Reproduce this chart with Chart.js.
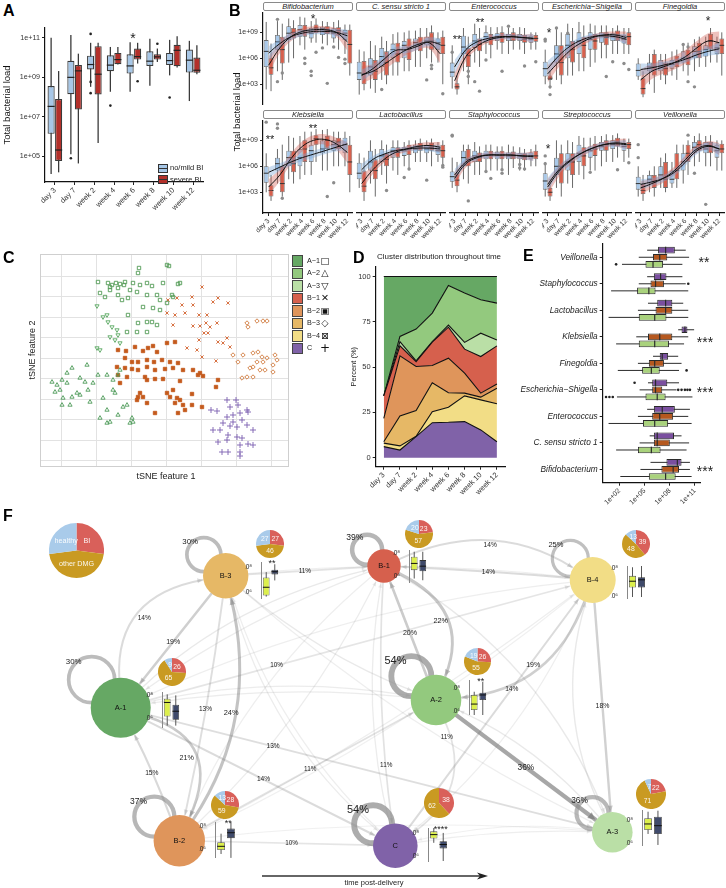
<!DOCTYPE html>
<html>
<head>
<meta charset="utf-8">
<title>Bacterial load and DMG clusters</title>
<script src="https://cdn.jsdelivr.net/npm/chart.js@4.4.1/dist/chart.umd.min.js"></script>
<style>
  html, body { margin: 0; padding: 0; background: #fff; }
  #page { position: relative; width: 726px; height: 888px; overflow: hidden; background: #fff;
          font-family: 'Liberation Sans', Arial, Helvetica, sans-serif; color: #111; }
  #page canvas { position: absolute; }
  .t { position: absolute; white-space: nowrap; line-height: 1; }
  .strip { position: absolute; box-sizing: border-box; border: 1px solid #8a8a8a; border-radius: 2px;
           background: #fff; font-style: italic; font-size: 7.5px; line-height: 7px; text-align: center; color: #222; }
  .sw { position: absolute; box-sizing: border-box; border: 1px solid #333; }
</style>
</head>
<body>
<div id="page"></div>
<script>
// ---------------- data ----------------
const TIMEPOINTS = ['day 3', 'day 7', 'week 2', 'week 4', 'week 6', 'week 8', 'week 10', 'week 12'];

// A: log10 total bacterial load per time point, [min, q1, median, q3, max]
const loadNoMild = [[4.1, 6.14, 7.53, 8.56, 11.0], [5.11, 8.15, 9.0, 9.84, 11.15], [8.52, 9.4, 9.65, 10.1, 10.75],
  [8.27, 9.31, 9.62, 10.12, 10.54], [8.27, 9.19, 9.58, 10.17, 10.78], [8.57, 9.58, 9.82, 10.32, 10.95],
  [9.1, 9.62, 9.85, 10.24, 10.9], [7.8, 9.24, 9.87, 10.41, 10.85]];
const loadSevere = [[4.19, 4.76, 5.32, 7.9, 9.32], [4.64, 7.37, 9.33, 9.62, 10.2], [5.68, 8.13, 9.16, 10.58, 10.75],
  [9.65, 9.67, 9.9, 10.24, 10.54], [9.7, 9.9, 10.05, 10.46, 10.75], [9.78, 9.9, 10.04, 10.17, 10.46],
  [9.5, 9.56, 10.37, 10.65, 11.08], [9.16, 9.23, 9.36, 10.0, 10.63]];
const loadNoMildOut = [[1, 4.9], [2, 11.2], [2, 8.77], [2, 8.2], [3, 7.57], [6, 7.98]];
const loadSevereOut = [[4, 8.8], [5, 10.7]];

// B: per genus, boxes for no/mild and severe BI, smooth fits [no/mild, severe], CI half widths, outliers [time, group, value]
const bifidoNoMild = [[2.4,5.0,6.8,8.1,10.2],[4.5,7.0,7.9,8.7,10.3],[5.5,8.1,8.9,9.7,10.6],[7.5,8.5,9.3,9.85,10.8],[7.8,8.3,8.9,9.5,10.3],[7.7,8.7,9.4,9.65,10.3],[7.8,8.3,8.9,9.46,10.2],[6.5,8.1,8.9,9.27,9.9]];
const bifidoSevere = [[2.2,4.1,4.9,6.0,7.7],[3.5,5.4,7.0,8.5,10.0],[6.0,8.3,9.0,9.5,10.4],[7.0,8.5,9.2,9.85,10.7],[7.8,8.9,9.5,9.9,10.6],[7.5,8.8,9.3,9.7,10.2],[7.0,8.6,9.2,9.6,10.4],[4.0,5.4,7.6,9.3,9.9]];
const bifidoFit = [[6.6,7.7,8.5,8.9,9.1,9.1,9.0,8.6],[5.2,7.2,8.5,9.1,9.3,9.3,9.0,7.9]];
const bifidoBand = [[0.8,0.5,0.4,0.35,0.35,0.35,0.4,0.7],[1.0,0.6,0.5,0.4,0.4,0.4,0.5,1.0]];
const bifidoOut = [[1,0,10.5],[1,0,3.3],[1,1,4.3],[3,1,6.0],[3,1,5.4],[4,0,4.5],[4,0,4.0],[4,1,6.7],[5,0,7.2],[5,1,3.1],[6,0,7.3],[6,1,6.1],[7,0,5.9],[7,0,5.4]];

const csensuNoMild = [[1.8,3.5,4.3,5.6,7.0],[2.5,4.0,5.0,6.0,8.0],[3.5,5.0,6.2,7.2,8.5],[4.0,6.0,7.0,7.7,8.8],[4.5,6.0,7.5,8.0,9.0],[5.0,7.3,7.8,8.3,9.2],[6.0,7.5,8.0,8.5,9.5],[5.5,7.0,7.8,8.3,9.0]];
const csensuSevere = [[2.3,3.0,4.2,5.7,6.8],[2.0,3.5,4.5,5.8,7.5],[3.0,4.0,5.5,6.8,8.0],[4.0,5.5,6.5,7.8,9.0],[4.5,5.8,7.2,8.3,9.2],[5.0,6.8,7.6,8.5,9.5],[5.5,7.0,8.0,9.0,9.8],[3.0,6.5,7.5,8.5,9.2]];
const csensuFit = [[4.0,4.8,5.9,6.9,7.0,7.4,7.9,7.6],[4.1,4.5,5.3,6.2,7.0,7.6,7.8,6.5]];
const csensuBand = [[0.7,0.5,0.5,0.4,0.4,0.4,0.5,0.7],[1.0,0.8,0.7,0.6,0.6,0.6,0.7,1.1]];
const csensuOut = [[2,0,2.4],[6,0,3.5],[6,1,5.2],[6,1,4.8],[7,1,1.9]];

const enteroNoMild = [[2.5,3.8,4.4,5.5,7.5],[4.5,6.5,7.3,8.6,9.5],[5.5,7.2,8.0,8.8,10.0],[6.5,7.8,8.5,9.0,9.8],[7.0,8.0,8.5,8.9,9.6],[6.5,8.0,8.4,8.8,9.5],[7.0,8.0,8.4,8.8,9.6],[7.0,7.8,8.2,8.6,9.0]];
const enteroSevere = [[1.8,2.4,2.7,3.1,4.0],[3.0,5.0,6.3,7.2,8.5],[5.0,6.8,7.6,8.3,9.5],[6.0,7.5,8.2,8.8,9.6],[6.5,7.8,8.4,9.0,9.7],[7.0,8.0,8.6,9.0,9.5],[6.5,7.8,8.2,8.7,9.5],[7.0,7.9,8.3,8.7,9.0]];
const enteroFit = [[5.0,7.0,7.9,8.3,8.5,8.5,8.4,8.3],[3.4,6.2,7.4,8.1,8.4,8.5,8.4,8.3]];
const enteroBand = [[0.8,0.4,0.3,0.3,0.3,0.3,0.3,0.5],[0.9,0.5,0.35,0.3,0.3,0.3,0.35,0.5]];
const enteroOut = [[0,0,6.7],[1,1,4.5],[1,1,3.9],[2,0,3.3],[2,1,2.2],[3,0,5.8],[4,1,4.5],[5,0,9.7],[6,1,5.1],[7,1,5.6]];

const eschNoMild = [[3.0,3.9,4.8,5.6,7.0],[3.5,5.5,6.5,7.5,9.5],[4.0,6.0,7.5,8.8,10.0],[4.5,6.5,8.0,9.0,10.2],[5.0,7.0,8.2,9.0,10.0],[6.0,7.8,8.6,9.0,9.8],[6.5,8.0,8.5,8.9,9.5],[6.5,7.7,8.2,8.7,9.5]];
const eschSevere = [[2.5,3.5,3.7,4.0,4.6],[3.0,4.0,5.5,7.5,9.0],[4.0,5.5,7.0,8.0,9.5],[4.5,6.0,7.5,8.5,9.8],[5.5,7.0,8.0,8.8,9.8],[6.0,7.5,8.4,9.0,9.8],[6.5,8.0,8.7,9.2,9.8],[6.5,7.5,8.5,9.0,9.5]];
const eschFit = [[4.8,6.3,7.4,8.1,8.5,8.6,8.5,8.2],[4.2,5.6,6.9,7.8,8.4,8.7,8.7,8.4]];
const eschBand = [[0.9,0.5,0.4,0.35,0.3,0.3,0.35,0.6],[1.0,0.6,0.45,0.4,0.35,0.35,0.4,0.7]];
const eschOut = [[0,0,8.2],[0,0,8.0],[0,1,2.7],[0,1,1.8],[1,0,9.5],[2,0,8.9],[5,1,3.9],[6,0,5.6],[7,0,5.4],[7,1,4.7]];

const fineNoMild = [[3.5,3.9,4.6,5.4,6.0],[3.0,4.5,5.0,5.5,6.5],[3.5,4.5,5.0,5.8,6.5],[4.0,4.8,5.3,5.8,6.8],[4.5,5.5,6.0,6.8,7.5],[4.5,6.0,6.8,7.4,8.2],[5.0,6.2,7.0,7.5,8.5],[5.5,6.5,7.2,7.8,8.5]];
const fineSevere = [[1.5,1.8,2.5,3.7,4.5],[2.0,4.0,5.0,6.5,7.0],[3.0,4.0,4.8,5.5,6.5],[3.5,5.0,5.5,6.3,7.0],[4.0,5.2,6.0,7.0,7.8],[5.0,6.0,6.8,7.8,8.5],[5.5,7.0,8.0,8.8,9.5],[4.0,6.5,7.5,8.3,9.0]];
const fineFit = [[4.7,4.9,5.2,5.5,5.9,6.4,6.8,7.1],[3.5,4.5,5.0,5.5,6.2,7.2,8.0,7.8]];
const fineBand = [[0.7,0.5,0.4,0.4,0.4,0.4,0.5,0.7],[1.2,0.9,0.8,0.8,0.8,0.8,0.9,1.3]];
const fineOut = [[4,0,7.6],[4,1,7.3],[4,1,3.3],[5,0,2.7]];

const klebNoMild = [[3.0,4.1,5.2,6.0,7.5],[4.0,5.5,6.3,7.0,8.0],[4.5,6.0,7.0,7.8,9.5],[4.5,6.0,7.0,8.0,9.5],[5.0,6.5,7.8,8.5,10.0],[5.5,7.5,8.0,9.0,10.2],[6.0,7.8,8.5,9.0,10.0],[6.0,7.5,8.5,9.3,10.0]];
const klebSevere = [[2.0,2.5,3.2,3.8,5.0],[2.5,3.0,4.0,6.0,8.5],[4.0,5.3,6.3,7.8,9.3],[5.0,6.5,8.0,9.0,10.0],[6.5,8.5,9.2,9.6,10.3],[5.5,8.0,9.0,9.5,10.3],[6.0,8.0,8.8,9.3,10.0],[3.0,5.0,6.5,8.5,9.5]];
const klebFit = [[5.3,5.9,6.5,7.0,7.4,7.8,8.2,8.6],[3.6,5.0,6.9,8.3,9.0,9.1,8.6,7.6]];
const klebBand = [[0.6,0.45,0.4,0.4,0.4,0.4,0.5,0.7],[0.9,0.7,0.6,0.6,0.6,0.6,0.7,1.2]];
const klebOut = [[0,0,11.1],[1,0,10.9],[1,0,10.4],[1,1,2.3],[5,1,2.5],[6,0,4.1]];

const lactoNoMild = [[3.5,4.5,5.2,6.4,7.5],[4.0,5.5,6.5,7.8,9.0],[5.0,6.5,7.2,8.0,9.0],[5.5,7.0,7.8,8.2,9.0],[6.0,7.2,7.8,8.2,8.8],[6.5,7.5,8.0,8.5,9.0],[6.5,7.5,8.0,8.5,9.0],[6.5,7.3,7.8,8.3,8.8]];
const lactoSevere = [[2.0,3.0,3.7,5.5,7.0],[2.5,4.5,5.5,6.8,8.0],[4.0,6.0,6.8,7.5,8.5],[5.0,7.0,7.6,8.2,9.0],[5.5,7.3,8.0,8.5,9.0],[6.5,7.8,8.3,8.7,9.2],[6.0,7.8,8.2,8.7,9.2],[6.0,7.0,7.8,8.5,9.0]];
const lactoFit = [[5.6,6.8,7.4,7.8,8.0,8.1,8.1,8.0],[4.0,5.6,6.8,7.6,8.0,8.3,8.4,8.2]];
const lactoBand = [[0.7,0.4,0.35,0.3,0.3,0.3,0.35,0.5],[0.9,0.5,0.4,0.35,0.35,0.35,0.4,0.6]];
const lactoOut = [[2,1,3.2],[4,0,4.7],[4,1,5.7],[6,0,4.4],[7,1,6.1],[7,1,5.9]];

const staphNoMild = [[3.5,4.2,4.8,5.4,7.0],[4.5,6.0,7.0,7.8,8.5],[5.0,6.5,7.2,7.8,8.8],[5.5,6.8,7.3,7.8,8.5],[5.5,6.8,7.3,7.7,8.3],[5.0,6.8,7.2,7.6,8.5],[5.5,6.8,7.2,7.5,8.2],[6.0,6.8,7.2,7.6,8.0]];
const staphSevere = [[3.0,3.7,4.4,5.2,6.5],[4.0,6.0,6.8,8.0,8.5],[5.0,6.5,7.0,7.6,8.3],[5.5,6.8,7.3,7.8,8.5],[5.5,6.8,7.3,7.8,8.3],[5.8,6.8,7.2,7.7,8.3],[5.5,6.7,7.1,7.5,8.0],[6.0,6.8,7.2,7.8,8.5]];
const staphFit = [[5.0,6.5,7.1,7.3,7.3,7.3,7.2,7.1],[4.6,6.3,7.0,7.3,7.3,7.3,7.2,7.2]];
const staphBand = [[0.7,0.4,0.3,0.3,0.3,0.3,0.35,0.5],[0.8,0.45,0.35,0.3,0.3,0.3,0.35,0.55]];
const staphOut = [[0,0,9.6],[0,0,9.5],[1,1,2.0],[3,0,5.4],[3,1,4.6],[4,1,5.6],[4,1,5.2],[6,0,6.2],[6,0,5.8],[6,1,5.7]];

const strepNoMild = [[2.5,3.3,4.3,5.2,6.5],[3.5,5.0,6.0,7.0,9.0],[4.0,5.5,6.5,7.5,9.0],[5.0,6.5,7.5,8.5,9.5],[5.5,7.0,7.8,8.3,9.3],[6.0,7.8,8.3,8.8,9.5],[6.5,8.0,8.5,9.0,9.6],[6.5,7.8,8.3,8.7,9.2]];
const strepSevere = [[2.0,2.5,3.0,3.5,4.5],[2.5,4.0,6.0,7.5,8.5],[3.5,5.0,6.5,7.5,8.8],[4.5,6.0,7.2,8.2,9.3],[5.5,7.2,8.0,8.6,9.5],[6.5,7.8,8.5,9.0,9.7],[7.0,8.3,8.8,9.3,9.8],[7.0,8.0,8.5,8.8,9.2]];
const strepFit = [[3.9,5.6,6.7,7.5,8.1,8.5,8.6,8.5],[3.6,5.4,6.6,7.5,8.1,8.5,8.7,8.6]];
const strepBand = [[0.8,0.5,0.4,0.35,0.3,0.3,0.35,0.5],[0.9,0.6,0.45,0.4,0.35,0.35,0.4,0.6]];
const strepOut = [[0,0,7.2],[0,0,6.3],[4,0,5.3],[6,1,5.6],[7,1,6.4]];

const veillNoMild = [[2.5,3.3,4.0,4.8,6.0],[3.0,4.0,4.5,5.0,5.5],[3.5,4.5,5.0,6.0,7.0],[3.5,4.0,4.5,5.5,6.5],[4.0,5.5,6.5,7.5,8.5],[6.0,7.5,8.2,8.8,9.5],[6.0,7.5,8.0,8.8,9.5],[5.5,7.0,7.8,8.5,9.0]];
const veillSevere = [[2.0,2.8,3.2,4.0,5.0],[2.5,3.5,4.2,5.0,6.0],[3.0,3.5,4.5,6.5,7.5],[3.5,4.5,5.5,7.5,8.5],[5.0,6.5,7.5,8.5,9.0],[6.5,7.8,8.5,9.0,9.8],[6.0,7.5,8.3,8.8,9.6],[5.5,7.5,8.0,8.6,9.0]];
const veillFit = [[3.9,4.2,4.6,5.3,6.5,7.8,8.3,8.0],[3.5,4.0,4.6,5.5,6.8,8.0,8.4,8.0]];
const veillBand = [[0.6,0.45,0.4,0.4,0.4,0.4,0.45,0.6],[0.8,0.55,0.5,0.45,0.45,0.45,0.5,0.7]];
const veillOut = [[0,0,8.5],[0,0,7.0],[4,1,9.6],[5,0,5.2],[6,0,1.6]];

const GENERA = ['Bifidobacterium', 'C. sensu stricto 1', 'Enterococcus', 'Escherichia−Shigella', 'Finegoldia',
  'Klebsiella', 'Lactobacillus', 'Staphylococcus', 'Streptococcus', 'Veillonella'];

// C: tSNE embedding per cluster [feature 1, feature 2]
const CLUSTERS = ['A-1', 'A-2', 'A-3', 'B-1', 'B-2', 'B-3', 'B-4', 'C'];
const tsneA1 = [[-27,90],[-28,85],[1,93],[3,92],[-68,76],[-58,75],[-54,73],[-50,75],[-46,74],[-42,73],[-56,71],[-48,70],[-41,76],[-33,75],[-26,73],[-19,75],[-14,72],[-3,75],[14,75],[12,74],[-66,65],[-56,68],[-48,63],[-38,60],[-29,66],[-19,63],[-9,63],[-6,58],[6,63],[-23,51],[-13,50],[-6,48],[-38,43],[-28,35],[-19,36],[-14,36],[-29,26],[-39,26],[-19,26],[-9,33],[1,55],[7,61],[-36,68],[-44,58],[-61,61]];
const tsneA2 = [[-114,-24],[-109,-27],[-104,-22],[-106,-32],[-111,-34],[-99,-15],[-94,-10],[-86,-20],[-79,-7],[-81,-24],[-73,-25],[-68,-17],[-59,-17],[-53,-22],[-48,-17],[-46,-12],[-53,-32],[-51,-35],[-94,-39],[-86,-37],[-103,-40],[-104,-47],[-96,-47],[-76,-44],[-63,-40],[-59,-52],[-66,-60],[-59,-65],[-56,-64],[-48,-57],[-43,-49],[-39,-47],[-34,-60],[-33,-64],[-36,-65],[-89,-35],[-78,-32],[-99,-25]];
const tsneA3 = [[-69,52],[-59,43],[-58,36],[-49,28],[-48,23],[-51,18],[-46,15],[-69,10],[-66,8],[-56,21],[-63,41],[-54,31]];
const tsneB1 = [[11,60],[16,53],[26,61],[27,53],[47,56],[52,60],[62,55],[1,45],[9,43],[19,45],[33,43],[41,43],[7,33],[27,32],[34,32],[40,35],[44,31],[38,25],[42,25],[51,35],[33,18],[52,16],[61,20],[57,15],[64,11],[21,10],[31,8],[36,1],[50,-3],[2,58],[36,71]];
const tsneB2 = [[-48,8],[-40,7],[-31,11],[-23,7],[-18,10],[-13,12],[-9,6],[1,15],[9,16],[-41,0],[-34,-4],[-28,-4],[-19,-2],[-12,-4],[-4,-2],[4,-4],[12,-5],[-49,-9],[-41,-10],[-34,-11],[-28,-12],[-19,-9],[-11,-12],[-1,-11],[7,-10],[17,-12],[27,-12],[34,-15],[37,-18],[-48,-17],[-39,-19],[-21,-19],[-19,-22],[-11,-21],[-3,-21],[14,-23],[32,-17],[52,-22],[50,-29],[-26,-35],[-23,-39],[-29,-42],[-19,-45],[-11,-55],[1,-35],[7,-32],[11,-40],[14,-42],[9,-45],[17,-47],[19,-52],[12,-55],[26,-36],[36,-49],[-28,-39],[4,-39],[-46,-25],[26,-47]];
const tsneB3 = [[81,35],[82,31],[91,37],[97,37],[101,37],[67,3],[72,-4],[77,3],[87,5],[92,6],[96,1],[101,0],[97,-4],[91,-4],[87,-9],[84,-10],[94,-12],[99,-12],[109,3],[111,-2],[107,-7],[107,-14],[76,-20],[81,-19],[87,-19]];
const tsneB4 = [];
const tsneC = [[45,-52],[51,-53],[61,-42],[64,-49],[70,-42],[72,-47],[81,-52],[82,-54],[61,-59],[67,-57],[74,-55],[57,-65],[64,-68],[71,-69],[81,-67],[87,-72],[47,-72],[54,-72],[62,-77],[71,-79],[76,-80],[52,-84],[61,-82],[74,-87],[82,-86],[87,-87],[56,-94],[62,-94],[74,-94],[74,-98],[67,-64],[76,-62]];

// D: cluster share (%) per time point
const shareC  = [6.1, 4.2, 11.6, 19.3, 19.5, 19.9, 15.3, 8.8];
const shareB4 = [1.9, 2.3, 0.2, 6.1, 8.3, 14.2, 16.6, 20.9];
const shareB3 = [0.8, 16.5, 14.2, 15.9, 8.0, 1.5, 1.5, 8.6];
const shareB2 = [12.9, 33.2, 24.3, 9.6, 19.1, 11.0, 2.2, 2.4];
const shareB1 = [12.4, 5.5, 2.7, 12.9, 17.1, 13.3, 20.2, 21.0];
const shareA3 = [0.0, 2.3, 0.4, 0.3, 1.2, 3.7, 12.9, 3.3];
const shareA2 = [0.0, 2.9, 17.6, 15.7, 21.8, 27.3, 18.5, 20.3];
const shareA1 = [65.9, 33.1, 29.0, 20.2, 5.0, 9.1, 12.8, 14.7];

// E: log10 load per genus, by cluster group [min, q1, median, q3, max]
const E_GENERA = ['Veillonella', 'Staphylococcus', 'Lactobacillus', 'Klebsiella', 'Finegoldia',
  'Escherichia−Shigella', 'Enterococcus', 'C. sensu stricto 1', 'Bifidobacterium'];
const eGroupC = [[5.3,6.6,7.5,8.6,9.9],[5.3,6.1,6.9,7.6,9.5],[5.4,6.5,7.5,8.3,9.6],[9.0,9.4,9.8,10.1,10.9],[6.0,6.8,7.1,7.8,9.0],[5.4,5.9,6.3,7.7,9.1],[5.3,6.1,7.1,8.6,10.4],[5.6,6.1,6.5,8.5,9.4],[5.7,7.6,8.9,9.4,10.4]];
const eGroupB = [[4.3,6.0,6.8,7.7,10.3],[4.3,5.7,6.3,7.3,9.9],[4.2,6.3,7.5,8.3,10.2],[4.0,5.4,6.8,8.3,10.2],[4.2,5.5,6.2,7.3,9.4],[4.4,5.9,6.3,7.1,8.8],[4.2,5.9,6.8,8.4,10.2],[4.4,6.1,6.5,8.0,10.3],[4.5,7.0,8.4,9.1,10.4]];
const eGroupA = [[2.3,5.1,6.0,7.2,9.5],[1.0,4.1,5.5,6.3,10.2],[0.7,4.3,6.2,7.6,10.2],[1.6,4.3,6.2,7.9,9.7],[1.8,4.7,5.8,6.8,9.1],[1.7,5.1,6.5,7.5,10.7],[0.7,4.8,6.2,7.8,10.6],[1.6,4.2,5.8,6.9,10.0],[2.1,5.5,7.5,8.7,10.6]];
const eOutC = [[5, 3.8]];
const eOutB = [[1, 10.2], [5, 9.0], [5, 9.4], [5, 9.8], [5, 10.1], [5, 10.4]];
const eOutA = [[0, 1.6], [4, 10.0], [5, 0.4], [5, 0.8], [5, 1.2]];

// F: transitions between clusters [from, to, percent]
const selfPct = [30, 54, 36, 39, 37, 30, 25, 54];   // in CLUSTERS order
const TRANSITIONS = [
  ['A-1','B-3',14], ['B-3','A-1',19], ['B-3','B-1',11], ['B-1','B-4',14], ['B-4','B-1',14],
  ['B-1','A-2',22], ['A-2','B-1',20], ['A-1','B-4',10], ['B-4','A-2',19], ['C','B-4',14],
  ['B-4','A-3',18], ['B-2','B-3',24], ['B-3','B-2',13], ['A-1','B-2',21], ['B-2','A-1',15],
  ['A-1','A-3',13], ['A-1','C',14], ['B-2','A-2',11], ['A-2','C',11], ['B-1','C',11],
  ['A-2','A-3',36], ['B-2','C',10],
  ['A-1','A-2',7], ['A-1','B-1',8], ['B-3','B-4',6], ['B-3','A-2',8], ['B-3','C',7], ['B-3','A-3',6],
  ['B-2','B-1',7], ['B-2','B-4',6], ['B-2','A-3',5], ['B-1','A-1',7], ['B-1','A-3',8], ['C','A-3',6],
  ['C','B-1',7], ['A-3','B-4',8], ['A-3','C',5], ['B-4','A-1',6], ['B-4','B-2',5], ['A-2','A-1',7],
  ['B-4','C',6], ['C','B-3',6], ['A-3','A-2',8], ['B-1','B-2',6]
];
// DMG composition (%) per cluster: BI, other DMG, healthy
const PIE_CLUSTERS = ['B-3', 'B-1', 'B-4', 'A-1', 'A-2', 'B-2', 'C', 'A-3'];
const pctBI      = [27, 23, 39, 26, 26, 28, 38, 22];
const pctOther   = [46, 57, 48, 65, 55, 59, 62, 71];
const pctHealthy = [27, 20, 13, 9, 19, 13, 0, 7];
// log10 load per cluster for the two inset groups [min, q1, median, q3, max]
const insetYellow = [[5.66,5.74,6.4,7.18,7.6],[5.8,6.53,7.12,7.7,8.14],[5.96,6.63,7.08,7.46,8.07],[5.31,6.12,7.37,7.7,8.09],[5.63,6.06,6.58,7.37,7.65],[5.63,5.97,6.28,6.63,7.35],[7.18,7.56,7.91,8.2,8.5],[6.77,7.12,7.65,8.15,8.73]];
const insetNavy   = [[6.94,7.42,7.63,7.79,8.22],[5.65,6.44,6.88,7.41,8.14],[5.96,6.63,7.18,7.37,8.16],[5.31,5.83,6.59,7.17,8.0],[5.63,6.93,7.37,7.57,8.52],[5.3,6.97,7.43,7.78,8.34],[5.56,6.68,7.03,7.32,8.06],[5.8,6.77,7.5,8.29,8.82]];
const insetStars  = ['**', '', '', '', '**', '**', '****', ''];

// ---------------- layout & style ----------------
const COL = { 'A-1': '#66a864', 'A-2': '#93c97e', 'A-3': '#badfa6', 'B-1': '#d6604d',
  'B-2': '#df955b', 'B-3': '#e6b866', 'B-4': '#f2dd86', 'C': '#8062a8' };
const BI_COL = '#d9605a', DMG_COL = '#c99a22', HEALTHY_COL = '#a9cbea';
const FACET_X = [263, 356, 449, 542, 635], FACET_TOP = [12, 120], FACET_W = 90, FACET_H = 93;
const STRIP_TOP = [1.7, 110];
// graph layout: centre and radius of every node, CLUSTERS order
const NODE_LAYOUT = [[120.7,707.7,30],[436,700,25.3],[612.3,832.3,20.3],[384,566,16.7],[179.3,840.7,25.7],[225.7,575.7,22.7],[592.7,580,23],[395.3,845.7,22.3]];
const LOOP_R = [23, 20, 16, 15, 20, 17, 18, 19];
const LOOP_ANGLE = -136;
// edge shape: [bend offset, label position along the edge]
const EDGE_SHAPE = [[-37,.5],[0,.5],[0,.5],[-28,.5],[1,.5],[-33,.5],[0,.5],[0,.33],[-31,.5],[0,.59],
  [0,.5],[29,.5],[-3,.5],[-40,.5],[2,.5],[0,.31],[0,.52],[0,.51],[-30,.22],[7,.71],[0,.51],[0,.52],
  [-15,.5],[-20,.5],[-10,.5],[10,.5],[25,.5],[15,.5],[15,.5],[10,.5],[-10,.5],[10,.5],[-30,.5],[-5,.5],
  [-15,.5],[-25,.5],[10,.5],[20,.5],[-15,.5],[10,.5],[-20,.5],[-20,.5],[12,.5],[20,.5]];
const PIE_LAYOUT = [[269.7,544,14],[419.3,534,14],[636,544.3,14],[172.3,671.7,14],[477.3,661,13.5],[225,805,14],[438.7,802.7,15],[650.7,794.3,15]];
// inset frame [left, top, right, bottom] and its log10 range
const INSET_FRAME = [[260.7,561.7,279.3,598.3,5.47,8.4],[409,550,428.3,582.7,5.41,8.29],[626.7,566,646.7,599.3,5.82,8.16],
  [162.3,691.7,181,727.3,5.1,8.3],[469.3,680,488.3,715,5.63,8.67],[215,821.7,237.3,857.3,5.29,8.34],
  [428.3,828.3,449.3,862.7,5.47,8.5],[641.7,810,663.3,846,5.71,8.88]];

Chart.defaults.font.family = "'Liberation Sans', Arial, Helvetica, sans-serif";
Chart.defaults.font.size = 8;
Chart.defaults.color = '#333';
Chart.defaults.animation = false;
Chart.defaults.responsive = false;
Chart.defaults.layout.autoPadding = false;
Chart.defaults.plugins.legend.display = false;
Chart.defaults.plugins.tooltip.enabled = false;

const page = document.getElementById('page');
function addCanvas(x, y, w, h) {
  const c = document.createElement('canvas');
  c.width = Math.round(w); c.height = Math.round(h);
  c.style.left = Math.round(x) + 'px'; c.style.top = Math.round(y) + 'px';
  c.style.width = Math.round(w) + 'px'; c.style.height = Math.round(h) + 'px';
  page.appendChild(c);
  return c;
}
function txt(text, x, y, o = {}) {
  const d = document.createElement('div');
  d.className = 't';
  d.textContent = text;
  d.style.left = x + 'px'; d.style.top = y + 'px';
  d.style.fontSize = (o.size || 8) + 'px';
  if (o.weight) d.style.fontWeight = o.weight;
  if (o.italic) d.style.fontStyle = 'italic';
  if (o.color) d.style.color = o.color;
  if (o.family) d.style.fontFamily = o.family;
  const tx = o.align === 'left' ? '0' : o.align === 'right' ? '-100%' : '-50%';
  d.style.transform = `translate(${tx}, -50%)` + (o.rotate ? ` rotate(${o.rotate}deg)` : '');
  page.appendChild(d);
  return d;
}
const star = (s, x, y, size) => txt(s, x, y + size * 0.22, { size, color: '#222' });

const fixedAxis = size => scale => {
  if (scale.isHorizontal()) scale.height = size; else scale.width = size;
  scale.paddingLeft = 0; scale.paddingRight = 0; scale.paddingTop = 0; scale.paddingBottom = 0;
};
const setTicks = values => scale => { scale.ticks = values.map(v => ({ value: v })); };
const sci = v => '1e+' + String(v).padStart(2, '0');
const tickGrid = () => ({ display: true, drawOnChartArea: false, drawTicks: true, tickLength: 3, color: '#222', offset: false });
const axisBorder = () => ({ display: true, color: '#111', width: 1.2 });

// floating bars = boxes; whiskers, medians and outliers drawn by the plugin from the same scales
function boxSet(stats, outliers, fill, edge, extra) {
  return Object.assign({
    type: 'bar', data: stats.map(s => [s[1], s[3]]), stats, outliers,
    backgroundColor: fill, borderColor: edge, borderWidth: 1, borderSkipped: false,
    whiskerColor: edge, medianColor: edge, outlierColor: '#222', outlierRadius: 1.3, order: 3
  }, extra || {});
}
const boxPlugin = {
  id: 'boxplot',
  beforeDatasetDraw(chart, args) {
    const ds = chart.data.datasets[args.index];
    if (!ds.stats) return;
    const meta = args.meta, vs = meta.vScale, horiz = chart.options.indexAxis === 'y', ctx = chart.ctx;
    ctx.save();
    ctx.strokeStyle = ds.whiskerColor; ctx.lineWidth = ds.whiskerWidth || 1;
    meta.data.forEach((bar, i) => {
      const s = ds.stats[i];
      const p = bar.getProps(['x', 'y'], true);
      const a = vs.getPixelForValue(s[0]), b = vs.getPixelForValue(s[4]);
      ctx.beginPath();
      if (horiz) { ctx.moveTo(a, p.y); ctx.lineTo(b, p.y); } else { ctx.moveTo(p.x, a); ctx.lineTo(p.x, b); }
      ctx.stroke();
    });
    ctx.restore();
  },
  afterDatasetDraw(chart, args) {
    const ds = chart.data.datasets[args.index];
    if (!ds.stats) return;
    const meta = args.meta, vs = meta.vScale, horiz = chart.options.indexAxis === 'y', ctx = chart.ctx;
    ctx.save();
    ctx.strokeStyle = ds.medianColor; ctx.lineWidth = ds.medianWidth || 1.2;
    meta.data.forEach((bar, i) => {
      const p = bar.getProps(['x', 'y', 'width', 'height'], true);
      const m = vs.getPixelForValue(ds.stats[i][2]);
      ctx.beginPath();
      if (horiz) { ctx.moveTo(m, p.y - p.height / 2); ctx.lineTo(m, p.y + p.height / 2); }
      else { ctx.moveTo(p.x - p.width / 2, m); ctx.lineTo(p.x + p.width / 2, m); }
      ctx.stroke();
    });
    ctx.fillStyle = ds.outlierColor;
    (ds.outliers || []).forEach(([i, v]) => {
      const p = meta.data[i].getProps(['x', 'y'], true);
      const c = horiz ? p.y : p.x, val = vs.getPixelForValue(v);
      ctx.beginPath();
      if (horiz) ctx.arc(val, c, ds.outlierRadius, 0, Math.PI * 2); else ctx.arc(c, val, ds.outlierRadius, 0, Math.PI * 2);
      ctx.fill();
    });
    ctx.restore();
  }
};

// ---------------- A ----------------
txt('A', 3, 11, { size: 16, weight: 'bold', align: 'left', color: '#000' });
new Chart(addCanvas(0, 0, 230, 250), {
  type: 'bar',
  data: { labels: TIMEPOINTS, datasets: [
    boxSet(loadNoMild, loadNoMildOut, '#a7c7e7', '#3a3a3a', { categoryPercentage: 0.76, barPercentage: 0.95, borderWidth: 1.2, whiskerWidth: 1.3, medianColor: '#222' }),
    boxSet(loadSevere, loadSevereOut, '#b3302a', '#3a3a3a', { categoryPercentage: 0.76, barPercentage: 0.95, borderWidth: 1.2, whiskerWidth: 1.3, medianColor: '#222' })
  ] },
  options: {
    layout: { padding: { top: 28, right: 27 } },
    scales: {
      x: { ticks: { autoSkip: false, minRotation: 45, maxRotation: 45, font: { size: 7.5 }, padding: 1 },
           grid: tickGrid(), border: axisBorder(), afterFit: fixedAxis(68) },
      y: { min: 3.7, max: 11.5, afterBuildTicks: setTicks([5, 7, 9, 11]), ticks: { callback: sci, font: { size: 7.2 }, padding: 2 },
           grid: tickGrid(), border: axisBorder(), afterFit: fixedAxis(45),
           title: { display: true, text: 'Total bacterial load', font: { size: 9.5 }, color: '#111', padding: { top: 2, bottom: 0 } } }
    }
  },
  plugins: [boxPlugin]
});
star('*', 133, 35, 14);
[['no/mild BI', '#a7c7e7', 168], ['severe BI', '#b3302a', 179.5]].forEach(([name, fill, y]) => {
  const sw = document.createElement('div');
  sw.className = 'sw';
  sw.style.cssText = `left:158px;top:${y - 4.5}px;width:9.5px;height:9px;background:${fill};`;
  const mid = document.createElement('div');
  mid.style.cssText = 'position:absolute;left:0;right:0;top:3px;height:1px;background:#333;';
  sw.appendChild(mid);
  page.appendChild(sw);
  txt(name, 170, y, { size: 7.5, align: 'left', color: '#222' });
});

// ---------------- B ----------------
txt('B', 229, 11, { size: 16, weight: 'bold', align: 'left', color: '#000' });
txt('Total bacterial load', 237, 112, { size: 9.5, rotate: -90, color: '#111' });
const FACETS = [
  [bifidoNoMild, bifidoSevere, bifidoFit, bifidoBand, bifidoOut],
  [csensuNoMild, csensuSevere, csensuFit, csensuBand, csensuOut],
  [enteroNoMild, enteroSevere, enteroFit, enteroBand, enteroOut],
  [eschNoMild, eschSevere, eschFit, eschBand, eschOut],
  [fineNoMild, fineSevere, fineFit, fineBand, fineOut],
  [klebNoMild, klebSevere, klebFit, klebBand, klebOut],
  [lactoNoMild, lactoSevere, lactoFit, lactoBand, lactoOut],
  [staphNoMild, staphSevere, staphFit, staphBand, staphOut],
  [strepNoMild, strepSevere, strepFit, strepBand, strepOut],
  [veillNoMild, veillSevere, veillFit, veillBand, veillOut]
];
function facetChart(k) {
  const col = k % 5, row = Math.floor(k / 5);
  const [boxBlue, boxRed, fit, band, outl] = FACETS[k];
  const yw = col === 0 ? 30 : 0, xh = row === 1 ? 34 : 0;
  const strip = document.createElement('div');
  strip.className = 'strip';
  strip.style.cssText = `left:${FACET_X[col]}px;top:${STRIP_TOP[row]}px;width:${FACET_W}px;height:9px;`;
  strip.textContent = GENERA[k];
  page.appendChild(strip);
  const outOf = g => outl.filter(o => o[1] === g).map(o => [o[0], o[2]]);
  const boxOpts = { categoryPercentage: 0.86, barPercentage: 1, borderWidth: 0.8, whiskerWidth: 1, medianWidth: 1,
    outlierColor: '#8c8c8c', outlierRadius: 1.7, medianColor: '#333' };
  const line = (data, extra) => Object.assign({ type: 'line', data, pointRadius: 0, tension: 0.4, borderWidth: 0, fill: false, order: 2 }, extra);
  const band0 = fit[0].map((v, i) => [v - band[0][i], v + band[0][i]]);
  const band1 = fit[1].map((v, i) => [v - band[1][i], v + band[1][i]]);
  new Chart(addCanvas(FACET_X[col] - yw, FACET_TOP[row], FACET_W + yw, FACET_H + xh), {
    type: 'bar',
    data: { labels: TIMEPOINTS, datasets: [
      boxSet(boxBlue, outOf(0), '#a9c8e8', '#6a6a6a', boxOpts),
      boxSet(boxRed, outOf(1), '#d6604d', '#6a6a6a', boxOpts),
      line(band0.map(b => b[0])),
      line(band0.map(b => b[1]), { fill: '-1', backgroundColor: 'rgba(120,165,215,0.38)' }),
      line(band1.map(b => b[0])),
      line(band1.map(b => b[1]), { fill: '-1', backgroundColor: 'rgba(210,95,85,0.38)' }),
      line(fit[0], { borderColor: '#111', borderWidth: 1, order: 0 }),
      line(fit[1], { borderColor: '#111', borderWidth: 1, order: 0 })
    ] },
    options: {
      scales: {
        x: { display: row === 1, ticks: { autoSkip: false, minRotation: 45, maxRotation: 45, font: { size: 6.8 }, padding: 1 },
             grid: tickGrid(), border: axisBorder(), afterFit: fixedAxis(xh) },
        y: { display: col === 0, min: 0.6, max: 11.35, afterBuildTicks: setTicks([3, 6, 9]),
             ticks: { callback: sci, font: { size: 7 }, padding: 2 }, grid: tickGrid(), border: axisBorder(), afterFit: fixedAxis(yw) }
      }
    },
    plugins: [boxPlugin]
  });
}
for (let k = 0; k < 10; k++) facetChart(k);
star('*', 313, 16, 12);
star('**', 457, 37, 11); star('**', 480, 20, 11);
star('*', 549, 30, 12); star('*', 708, 18, 12);
star('**', 270, 137, 11); star('**', 313, 126, 11);
star('*', 548, 146, 12);

// ---------------- C ----------------
txt('C', 3, 258, { size: 16, weight: 'bold', align: 'left', color: '#000' });
const TSNE = [tsneA1, tsneA2, tsneA3, tsneB1, tsneB2, tsneB3, tsneB4, tsneC];
const SCATTER_STYLE = [
  { pointStyle: 'rect', color: '#519a55', open: true, r: 2.4 },
  { pointStyle: 'triangle', color: '#4f9c5a', open: true, r: 2.4 },
  { pointStyle: 'triangle', rotation: 180, color: '#5aa862', open: true, r: 2.4 },
  { pointStyle: 'crossRot', color: '#d2622e', r: 2.3 },
  { pointStyle: 'rect', color: '#c45a1c', open: false, r: 2.4 },
  { pointStyle: 'rectRot', color: '#d0783a', open: true, r: 2.2 },
  { pointStyle: 'rect', color: '#e0b84a', open: true, r: 2.4 },
  { pointStyle: 'cross', color: '#7c5fb0', r: 3 }
];
const cCanvas = addCanvas(41, 255, 247, 211);
cCanvas.style.outline = '1px solid #cfcfcf';
new Chart(cCanvas, {
  type: 'scatter',
  data: { datasets: TSNE.map((pts, i) => ({
    data: pts.map(p => ({ x: p[0], y: p[1] })),
    pointStyle: SCATTER_STYLE[i].pointStyle, rotation: SCATTER_STYLE[i].rotation || 0,
    pointRadius: SCATTER_STYLE[i].r, borderWidth: 0.9, borderColor: SCATTER_STYLE[i].color,
    backgroundColor: SCATTER_STYLE[i].open ? 'rgba(255,255,255,0)' : SCATTER_STYLE[i].color
  })) },
  options: {
    scales: {
      x: { min: -125, max: 122, afterBuildTicks: setTicks([-105, -70, -35, 0, 35, 70, 105]), ticks: { display: false },
           grid: { color: '#e2e2e2', drawTicks: false }, border: { display: false }, afterFit: fixedAxis(0) },
      y: { min: -108, max: 103, afterBuildTicks: setTicks([-102.5, -82, -61.5, -41, -20.5, 0, 20.5, 41, 61.5, 82]), ticks: { display: false },
           grid: { color: '#e2e2e2', drawTicks: false }, border: { display: false }, afterFit: fixedAxis(0) }
    }
  }
});
txt('tSNE feature 1', 166, 476, { size: 9, color: '#222' });
txt('tSNE feature 2', 32, 350, { size: 9, rotate: -90, color: '#222' });
const LEGEND_SYMBOL = ['□', '△', '▽', '✕', '▣', '◇', '⊠', '+'];
CLUSTERS.forEach((c, i) => {
  const y = 260.7 + i * 12.5;
  const sw = document.createElement('div');
  sw.className = 'sw';
  sw.style.cssText = `left:292px;top:${y - 5.7}px;width:11px;height:11.5px;background:${COL[c]};border-color:#444;`;
  page.appendChild(sw);
  txt(c.replace('-', '−'), 307, y, { size: 7.2, align: 'left', color: '#222' });
  txt(LEGEND_SYMBOL[i], 325, y, { size: i === 7 ? 12 : 9.5, family: "'DejaVu Sans', sans-serif", color: '#111' });
});

// ---------------- D ----------------
txt('D', 353, 258, { size: 16, weight: 'bold', align: 'left', color: '#000' });
txt('Cluster distribution throughout time', 377, 257, { size: 8, align: 'left', color: '#222' });
const SHARES = [shareC, shareB4, shareB3, shareB2, shareB1, shareA3, shareA2, shareA1];
const SHARE_COLORS = [COL['C'], COL['B-4'], COL['B-3'], COL['B-2'], COL['B-1'], COL['A-3'], COL['A-2'], COL['A-1']];
new Chart(addCanvas(347, 250, 173, 270), {
  type: 'line',
  data: { labels: TIMEPOINTS, datasets: SHARES.map((s, i) => ({
    data: s, fill: i === 0 ? 'origin' : '-1', backgroundColor: SHARE_COLORS[i],
    borderColor: '#111', borderWidth: 1.1, pointRadius: 0, tension: 0
  })) },
  options: {
    layout: { padding: { top: 16.7, right: 15 } },
    scales: {
      x: { offset: true, ticks: { autoSkip: false, minRotation: 45, maxRotation: 45, font: { size: 7.5 }, padding: 1 },
           grid: tickGrid(), border: axisBorder(), afterFit: fixedAxis(53.3) },
      y: { stacked: true, min: -5, max: 105.4, afterBuildTicks: setTicks([0, 25, 50, 75, 100]),
           ticks: { font: { size: 7.5 }, padding: 2 }, grid: tickGrid(), border: axisBorder(), afterFit: fixedAxis(28.7),
           title: { display: true, text: 'Percent (%)', font: { size: 7.5 }, color: '#222', padding: { top: 2, bottom: 0 } } }
    }
  }
});

// ---------------- E ----------------
txt('E', 523, 256, { size: 16, weight: 'bold', align: 'left', color: '#000' });
const eOpts = { categoryPercentage: 0.8, barPercentage: 0.95, borderWidth: 1, whiskerWidth: 1, medianColor: '#2b2b2b' };
new Chart(addCanvas(520, 236, 206, 284), {
  type: 'bar',
  data: { labels: E_GENERA, datasets: [
    boxSet(eGroupC, eOutC, '#7a4f9f', '#2b2b2b', eOpts),
    boxSet(eGroupB, eOutB, '#b5581f', '#2b2b2b', eOpts),
    boxSet(eGroupA, eOutA, '#a9d27c', '#2b2b2b', eOpts)
  ] },
  options: {
    indexAxis: 'y',
    layout: { padding: { top: 8, right: 26 } },
    scales: {
      x: { min: 0, max: 11.6, afterBuildTicks: setTicks([2, 5, 8, 11]),
           ticks: { callback: sci, minRotation: 45, maxRotation: 45, font: { size: 7 }, padding: 1 },
           grid: tickGrid(), border: axisBorder(), afterFit: fixedAxis(37.3) },
      y: { ticks: { autoSkip: false, font: { size: 8.3, style: 'italic' }, color: '#222', padding: 2 },
           grid: tickGrid(), border: axisBorder(), afterFit: fixedAxis(82.7) }
    }
  },
  plugins: [boxPlugin]
});
star('**', 704, 259, 14); star('***', 705, 339, 14); star('***', 705, 389, 14); star('***', 705, 468, 14);

// ---------------- F ----------------
txt('F', 3, 516, { size: 16, weight: 'bold', align: 'left', color: '#000' });
const nodeIndex = name => CLUSTERS.indexOf(name);
function edgeGeom(P, tr, shape) {
  const a = P(nodeIndex(tr[0])), b = P(nodeIndex(tr[1]));
  const dx = b.x - a.x, dy = b.y - a.y, len = Math.hypot(dx, dy);
  const nx = -dy / len, ny = dx / len;
  const c = { x: (a.x + b.x) / 2 + nx * 2 * shape[0], y: (a.y + b.y) / 2 + ny * 2 * shape[0] };
  return { a, b, c };
}
const unit = (p, q) => { const l = Math.hypot(q.x - p.x, q.y - p.y) || 1; return { x: (q.x - p.x) / l, y: (q.y - p.y) / l }; };
const netPlugin = {
  id: 'transitions',
  beforeDatasetsDraw(chart) {
    const ctx = chart.ctx, xs = chart.scales.x, ys = chart.scales.y;
    const P = i => ({ x: xs.getPixelForValue(NODE_LAYOUT[i][0]), y: ys.getPixelForValue(NODE_LAYOUT[i][1]), r: NODE_LAYOUT[i][2] });
    ctx.save();
    ctx.lineCap = 'round';
    TRANSITIONS.forEach((tr, k) => {
      const { a, b, c } = edgeGeom(P, tr, EDGE_SHAPE[k]);
      const ua = unit(a, c), ub = unit(b, c);
      const s = { x: a.x + ua.x * a.r, y: a.y + ua.y * a.r };
      const e = { x: b.x + ub.x * (b.r + 1), y: b.y + ub.y * (b.r + 1) };
      const pct = tr[2], w = 0.6 + pct * 0.1, alpha = 0.02 + pct * 0.017;
      ctx.strokeStyle = `rgba(115,115,115,${alpha})`;
      ctx.fillStyle = ctx.strokeStyle;
      ctx.lineWidth = w;
      ctx.beginPath(); ctx.moveTo(s.x, s.y); ctx.quadraticCurveTo(c.x, c.y, e.x, e.y); ctx.stroke();
      const u = unit(c, e), sz = 3 + w;
      ctx.beginPath();
      ctx.moveTo(e.x, e.y);
      ctx.lineTo(e.x - u.x * sz - u.y * sz * 0.5, e.y - u.y * sz + u.x * sz * 0.5);
      ctx.lineTo(e.x - u.x * sz + u.y * sz * 0.5, e.y - u.y * sz - u.x * sz * 0.5);
      ctx.closePath(); ctx.fill();
    });
    const ang = LOOP_ANGLE * Math.PI / 180;
    selfPct.forEach((pct, i) => {
      const n = P(i), R = LOOP_R[i], d = n.r + 0.45 * R;
      ctx.strokeStyle = `rgba(140,140,140,${0.4 + pct * 0.006})`;
      ctx.lineWidth = 1 + pct * 0.09;
      ctx.beginPath(); ctx.arc(n.x + Math.cos(ang) * d, n.y + Math.sin(ang) * d, R, 0, Math.PI * 2); ctx.stroke();
    });
    ctx.restore();
  },
  afterDatasetsDraw(chart) {
    const ctx = chart.ctx, xs = chart.scales.x, ys = chart.scales.y;
    const P = i => ({ x: xs.getPixelForValue(NODE_LAYOUT[i][0]), y: ys.getPixelForValue(NODE_LAYOUT[i][1]), r: NODE_LAYOUT[i][2] });
    const font = pct => (pct >= 50 ? 11 : 5.5 + pct * 0.08) + "px 'Liberation Sans', Arial, sans-serif";
    ctx.save();
    ctx.textAlign = 'center'; ctx.textBaseline = 'middle'; ctx.fillStyle = '#222';
    TRANSITIONS.forEach((tr, k) => {
      if (tr[2] < 10) return;
      const { a, b, c } = edgeGeom(P, tr, EDGE_SHAPE[k]);
      const t = EDGE_SHAPE[k][1], m = 1 - t;
      ctx.font = font(tr[2]);
      ctx.fillText(tr[2] + '%', m * m * a.x + 2 * t * m * c.x + t * t * b.x, m * m * a.y + 2 * t * m * c.y + t * t * b.y);
    });
    const ang = LOOP_ANGLE * Math.PI / 180;
    selfPct.forEach((pct, i) => {
      const n = P(i), R = LOOP_R[i], d = n.r + 1.45 * R + 2;
      ctx.font = font(pct);
      ctx.fillText(pct + '%', n.x + Math.cos(ang) * d, n.y + Math.sin(ang) * d);
    });
    ctx.font = "7.5px 'Liberation Sans', Arial, sans-serif"; ctx.fillStyle = '#111';
    CLUSTERS.forEach((c, i) => { const n = P(i); ctx.fillText(c, n.x, n.y); });
    // time axis
    const x0 = xs.getPixelForValue(262), x1 = xs.getPixelForValue(488), y = ys.getPixelForValue(876);
    ctx.strokeStyle = '#333'; ctx.lineWidth = 1.3; ctx.fillStyle = '#222';
    ctx.beginPath(); ctx.moveTo(x0, y); ctx.lineTo(x1 - 6, y); ctx.stroke();
    ctx.beginPath(); ctx.moveTo(x1, y); ctx.lineTo(x1 - 11, y - 3.5); ctx.lineTo(x1 - 8, y); ctx.lineTo(x1 - 11, y + 3.5); ctx.closePath(); ctx.fill();
    ctx.restore();
  }
};
new Chart(addCanvas(0, 505, 726, 383), {
  type: 'bubble',
  data: { datasets: [{
    data: NODE_LAYOUT.map(n => ({ x: n[0], y: n[1], r: n[2] })),
    backgroundColor: CLUSTERS.map(c => COL[c]), borderWidth: 0, hoverRadius: 0
  }] },
  options: {
    scales: {
      x: { display: false, min: 0, max: 726 },
      y: { display: false, min: 505, max: 888, reverse: true }
    }
  },
  plugins: [netPlugin]
});
txt('time post-delivery', 374, 883, { size: 7.5, color: '#222' });

const sliceLabels = {
  id: 'sliceLabels',
  afterDatasetsDraw(chart) {
    const ds = chart.data.datasets[0], meta = chart.getDatasetMeta(0), ctx = chart.ctx;
    ctx.save();
    ctx.fillStyle = 'rgba(255,255,255,0.93)';
    ctx.font = ds.labelFont; ctx.textAlign = 'center'; ctx.textBaseline = 'middle';
    meta.data.forEach((arc, i) => {
      if (!ds.data[i]) return;
      const p = arc.tooltipPosition();
      ctx.fillText(ds.names ? ds.names[i] : String(ds.data[i]), p.x, p.y);
    });
    ctx.restore();
  }
};
function pieChart(cx, cy, r, values, names, fontSize) {
  new Chart(addCanvas(cx - r, cy - r, 2 * r, 2 * r), {
    type: 'pie',
    data: { labels: ['BI', 'other DMG', 'healthy'], datasets: [{
      data: values, names, backgroundColor: [BI_COL, DMG_COL, HEALTHY_COL], borderWidth: 0,
      labelFont: fontSize + "px 'Liberation Sans', Arial, sans-serif"
    }] },
    options: { layout: { padding: 0 } },
    plugins: [sliceLabels]
  });
}
pieChart(76.3, 550, 27.3, [27, 46, 27], ['BI', 'other DMG', 'healthy'], 7.2);
PIE_CLUSTERS.forEach((c, k) => {
  const [x, y, r] = PIE_LAYOUT[k];
  pieChart(x, y, r, [pctBI[k], pctOther[k], pctHealthy[k]], null, 6.8);
});

function insetChart(k) {
  const f = INSET_FRAME[k], lab = 16;
  const opts = { categoryPercentage: 0.9, barPercentage: 0.78, borderWidth: 0.8, whiskerColor: '#555', medianColor: '#111', medianWidth: 1 };
  new Chart(addCanvas(f[0] - lab, f[1] - 3, f[2] - f[0] + lab, f[3] - f[1] + 3), {
    type: 'bar',
    data: { labels: [PIE_CLUSTERS[k]], datasets: [
      boxSet([insetYellow[k]], [], '#dcef4c', '#555', opts),
      boxSet([insetNavy[k]], [], '#3f4a6b', '#333', opts)
    ] },
    options: {
      layout: { padding: { top: 3 } },
      scales: {
        x: { ticks: { display: false }, grid: { display: false }, border: { display: true, color: '#888', width: 1 }, afterFit: fixedAxis(0) },
        y: { min: f[4], max: f[5], afterBuildTicks: setTicks([6, 8]),
             ticks: { callback: v => (v === 8 ? '10⁸' : '10⁶'), font: { size: 6.5 }, padding: 1, color: '#222' },
             grid: { display: false }, border: { display: true, color: '#888', width: 1 }, afterFit: fixedAxis(lab) }
      }
    },
    plugins: [boxPlugin]
  });
  if (insetStars[k]) star(insetStars[k], (f[0] + f[2]) / 2 + 2, f[1] - 1, 9);
}
for (let k = 0; k < PIE_CLUSTERS.length; k++) insetChart(k);
</script>
</body>
</html>
